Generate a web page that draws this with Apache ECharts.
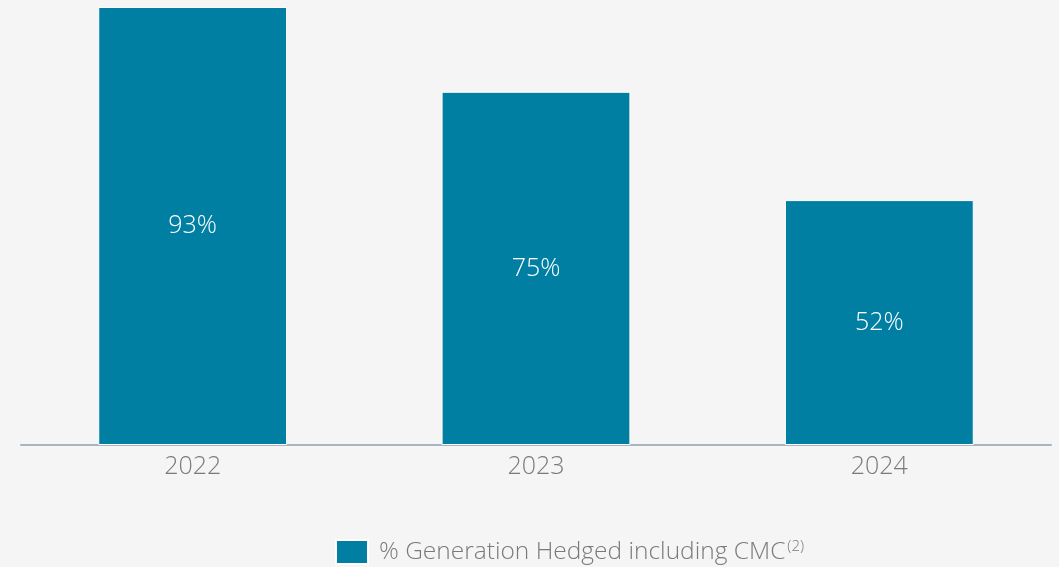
<!DOCTYPE html>
<html>
<head>
<meta charset="utf-8">
<script src="https://cdn.jsdelivr.net/npm/echarts@6/dist/echarts.min.js"></script>
<style>
html,body{margin:0;padding:0;background:#f5f5f6;}
#c{width:1059px;height:567px;}
</style>
</head>
<body>
<div id="c"></div>
<script>
const categories = ['2022', '2023', '2024'];
const hedgedValues = [93, 75, 52];
const seriesName = '% Generation Hedged including CMC';

const FONT = '"Open Sans", sans-serif';
const chart = echarts.init(document.getElementById('c'));
chart.setOption({
  backgroundColor: '#f5f5f6',
  animation: false,
  grid: { left: 21, right: 8, top: 7, bottom: 122 },
  xAxis: {
    type: 'category',
    data: categories,
    axisLine: { lineStyle: { color: '#a9b4bf', width: 2 } },
    axisTick: { show: false },
    axisLabel: { color: '#7a7a7a', fontSize: 25, fontFamily: FONT, fontWeight: 300, margin: 9 }
  },
  yAxis: {
    type: 'value', min: 0, max: 93, show: false,
    splitLine: { show: false }
  },
  legend: {
    left: 335, top: 539, padding: 0,
    itemWidth: 32, itemHeight: 24, itemGap: 10,
    icon: 'rect',
    textStyle: {
      color: '#7a7a7a', fontSize: 24.5, fontFamily: FONT, fontWeight: 300,
      rich: {
        a: { color: '#7a7a7a', fontSize: 24.5, fontFamily: FONT, fontWeight: 300, padding: [0, 0, 0, 6] },
        sup: { color: '#7a7a7a', fontSize: 15, fontFamily: FONT, fontWeight: 300, verticalAlign: 'top', padding: [0, 0, 10, 2] }
      }
    },
    formatter: function (n) { return '{a|' + n + '}{sup|(2)}'; },
    data: [seriesName]
  },
  series: [{
    name: seriesName,
    type: 'bar',
    data: hedgedValues,
    barWidth: '55%',
    itemStyle: { color: '#007fa3', borderColor: '#ffffff', borderWidth: 1 },
    label: {
      show: true, position: 'inside',
      formatter: '{c}%',
      color: '#ffffff', fontSize: 25, fontFamily: FONT, fontWeight: 300
    }
  }]
});
</script>
</body>
</html>
